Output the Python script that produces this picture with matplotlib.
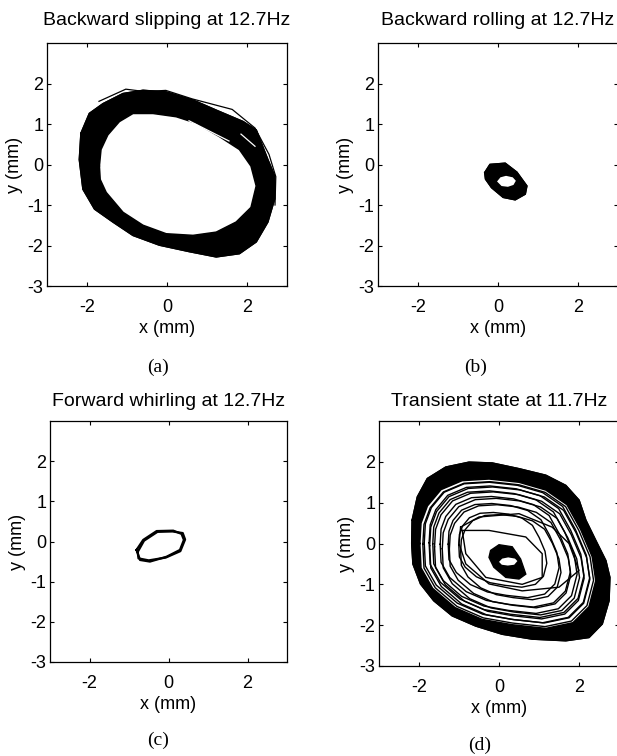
import numpy as np
import matplotlib
matplotlib.use("Agg")
import matplotlib.pyplot as plt

plt.rcParams['font.family'] = ['Liberation Sans', 'DejaVu Sans']

# ---------------- data (mm) ----------------
titles = ["Backward slipping at 12.7Hz", "Backward rolling at 12.7Hz",
          "Forward whirling at 12.7Hz", "Transient state at 11.7Hz"]
captions = ["(a)", "(b)", "(c)", "(d)"]
xticks = [-2, 0, 2]
yticks = [-3, -2, -1, 0, 1, 2]

# (a) backward slipping: outer and inner edge of the dense orbit band
a_outer_x = [-2.15, -2.19, -2.10, -1.81, -1.35, -0.85, -0.19, 0.56, 1.23, 1.81, 2.23, 2.52,
             2.69, 2.69, 2.52, 2.23, 1.90, 1.23, 0.65, -0.02, -0.60, -1.10, -1.60, -1.94]
a_outer_y = [0.77, 0.12, -0.61, -1.10, -1.42, -1.75, -1.99, -2.15, -2.28, -2.20, -1.91, -1.42,
             -0.85, -0.28, 0.12, 0.85, 1.06, 1.34, 1.59, 1.79, 1.83, 1.75, 1.50, 1.26]
a_inner_x = [-1.69, -1.65, -1.48, -1.19, -0.85, -0.35, 0.23, 0.73, 1.31, 1.81, 2.10,
             2.23, 2.10, 1.73, 1.23, 0.65, -0.02, -0.60, -1.10, -1.52, -1.67]
a_inner_y = [-0.04, 0.37, 0.73, 1.06, 1.26, 1.26, 1.18, 1.02, 0.69, 0.37, -0.04,
             -0.53, -1.06, -1.42, -1.67, -1.75, -1.71, -1.50, -1.18, -0.69, -0.37]
a_stray_x = [-1.70, -1.03, -0.55, -0.03, 0.63, 1.63, 2.20, 2.55, 2.72, 2.70]
a_stray_y = [1.56, 1.86, 1.80, 1.83, 1.62, 1.36, 0.90, 0.25, -0.30, -1.00]
a_streak1_x = [0.55, 1.55]
a_streak1_y = [1.08, 0.58]
a_streak2_x = [1.85, 2.20]
a_streak2_y = [0.75, 0.45]

# (b) backward rolling: small filled orbit with a hole
b_outer_x = [-0.33, -0.20, 0.18, 0.47, 0.72, 0.68, 0.43, 0.13, -0.16, -0.31]
b_outer_y = [-0.20, 0.00, 0.03, -0.19, -0.53, -0.73, -0.87, -0.81, -0.57, -0.36]
b_hole_x = [-0.05, 0.05, 0.20, 0.38, 0.47, 0.40, 0.25, 0.08]
b_hole_y = [-0.42, -0.30, -0.26, -0.30, -0.40, -0.52, -0.57, -0.55]

# (c) forward whirling: thin orbit (two passes)
c_loop1_x = [-0.81, -0.64, -0.30, 0.12, 0.33, 0.39, 0.29, -0.05, -0.47, -0.72, -0.81]
c_loop1_y = [-0.21, 0.04, 0.26, 0.27, 0.19, 0.04, -0.21, -0.38, -0.50, -0.46, -0.21]
c_loop2_x = [-0.78, -0.62, -0.28, 0.10, 0.36, 0.42, 0.30, -0.07, -0.50, -0.76, -0.78]
c_loop2_y = [-0.26, 0.02, 0.24, 0.25, 0.21, 0.05, -0.24, -0.40, -0.47, -0.42, -0.26]

# (d) transient state: outer band, growing loops and the central orbit
d_outer_x = [-2.17, -2.18, -2.15, -1.96, -1.63, -1.17, -0.58, 0.08, 0.83, 1.67, 2.25, 2.58, 2.75,
             2.77, 2.67, 2.42, 2.17, 2.00, 1.67, 1.17, 0.50, -0.17, -0.75, -1.33, -1.79, -2.04]
d_outer_y = [0.57, 0.00, -0.50, -0.99, -1.40, -1.77, -2.02, -2.22, -2.34, -2.38, -2.30, -1.97, -1.40,
             -0.83, -0.42, 0.07, 0.57, 1.06, 1.42, 1.67, 1.83, 1.97, 1.99, 1.87, 1.59, 1.14]
d_inner_x = [-1.98, -1.95, -1.66, -1.10, -0.42, 0.33, 1.17, 1.85, 2.25, 2.42,
             2.33, 2.04, 1.70, 1.17, 0.50, -0.25, -0.92, -1.45, -1.79, -1.95]
d_inner_y = [0.00, -0.60, -1.10, -1.57, -1.86, -1.99, -2.08, -1.94, -1.55, -0.91,
             -0.32, 0.35, 0.95, 1.31, 1.50, 1.58, 1.54, 1.32, 0.92, 0.50]
d_center = [0.21, -0.26]
d_loop_scale = [0.50, 0.57, 0.63, 0.69, 0.74, 0.78, 0.82, 0.85, 0.88, 0.91, 0.94, 0.97]
d_loop_dx = [-0.12, 0.08, -0.10, 0.06, -0.06, 0.08, -0.07, 0.04, -0.03, 0.05, -0.02, 0.01]
d_loop_dy = [0.10, -0.08, 0.08, -0.06, 0.05, -0.07, 0.04, -0.04, 0.05, -0.03, 0.03, -0.01]
d_eye1_x = [-0.96, -0.50, 0.50, 1.33, 1.75, 2.00, 1.50, 0.58, -0.25, -0.83, -1.00, -0.96]
d_eye1_y = [0.40, 0.65, 0.73, 0.40, 0.00, -0.66, -1.07, -1.16, -0.99, -0.50, 0.00, 0.40]
d_eye2_x = [-0.92, -0.25, 0.67, 1.08, 1.08, 0.58, -0.33, -0.83, -0.92]
d_eye2_y = [0.32, 0.32, 0.16, -0.25, -0.83, -1.00, -0.83, -0.25, 0.32]
d_blob_x = [-0.21, 0.00, 0.33, 0.54, 0.67, 0.50, 0.17, -0.13, -0.25]
d_blob_y = [-0.17, -0.03, -0.08, -0.38, -0.75, -0.87, -0.83, -0.58, -0.34]
d_hole_x = [0.00, 0.08, 0.23, 0.40, 0.46, 0.38, 0.22, 0.07]
d_hole_y = [-0.45, -0.37, -0.34, -0.37, -0.43, -0.52, -0.54, -0.52]

# ---------------- layout (figure fractions) ----------------
W, H = 617, 756
boxes = [(47, 43, 240, 243), (378, 43, 240, 243), (50, 421, 237, 241), (379, 421, 240, 245)]
title_pads = [13, 13, 11, 11]
cap_pos = [(158, 367), (476, 367), (158, 740), (480, 745)]

fig = plt.figure(figsize=(W / 100, H / 100), dpi=100)
axes = []
for (l, t, w, h) in boxes:
    ax = fig.add_axes([l / W, 1 - (t + h) / H, w / W, h / H])
    axes.append(ax)


def closed(x, y):
    return list(x) + [x[0]], list(y) + [y[0]]


def band(ax, ox, oy, ix, iy, z=2):
    ax.fill(ox, oy, color='black', lw=1.2, zorder=z)
    ax.fill(ix, iy, color='white', lw=0, zorder=z + 0.1)
    cx, cy = closed(ox, oy)
    ax.plot(cx, cy, color='black', lw=1.1, zorder=z + 0.2)
    cx, cy = closed(ix, iy)
    ax.plot(cx, cy, color='black', lw=1.1, zorder=z + 0.2)


# (a)
axa = axes[0]
band(axa, a_outer_x, a_outer_y, a_inner_x, a_inner_y)
axa.plot(a_stray_x, a_stray_y, color='black', lw=0.9, zorder=3)
axa.plot(a_streak1_x, a_streak1_y, color='white', lw=0.9, zorder=3)
axa.plot(a_streak2_x, a_streak2_y, color='white', lw=0.9, zorder=3)

# (b)
band(axes[1], b_outer_x, b_outer_y, b_hole_x, b_hole_y)

# (c)
axes[2].plot(c_loop1_x, c_loop1_y, color='black', lw=1.6)
axes[2].plot(c_loop2_x, c_loop2_y, color='black', lw=1.6)

# (d)
axd = axes[3]
band(axd, d_outer_x, d_outer_y, d_inner_x, d_inner_y)
ix, iy = closed(d_inner_x, d_inner_y)
for s, dx, dy in zip(d_loop_scale, d_loop_dx, d_loop_dy):
    lx = [d_center[0] + s * (v - d_center[0]) + dx for v in ix]
    ly = [d_center[1] + s * (v - d_center[1]) + dy for v in iy]
    axd.plot(lx, ly, color='black', lw=1.0, zorder=3)
axd.plot(d_eye1_x, d_eye1_y, color='black', lw=1.0, zorder=3)
axd.plot(d_eye2_x, d_eye2_y, color='black', lw=1.0, zorder=3)
axd.fill(d_blob_x, d_blob_y, color='black', lw=1.0, zorder=4)
axd.fill(d_hole_x, d_hole_y, color='white', lw=0, zorder=4.1)

for i, ax in enumerate(axes):
    ax.set_xlim(-3, 3)
    ax.set_ylim(-3, 3)
    ax.set_xticks(xticks)
    ax.set_yticks(yticks)
    ax.set_xticklabels([str(v) for v in xticks])
    ax.set_yticklabels([str(v) for v in yticks])
    ax.tick_params(direction='in', length=3, width=0.8, top=True, right=True,
                   labelsize=13)
    ax.tick_params(axis='x', pad=9)
    ax.tick_params(axis='y', pad=2.5)
    for sp in ax.spines.values():
        sp.set_linewidth(0.9)
    ax.set_xlabel("x (mm)", fontsize=13, labelpad=3)
    ax.set_ylabel("y (mm)", fontsize=13, labelpad=3)
    ax.set_title(titles[i], fontsize=14, pad=title_pads[i])
    cx, cy = cap_pos[i]
    fig.text(cx / W, 1 - cy / H, captions[i], ha='center', va='center',
             fontsize=14, family=['Liberation Serif', 'DejaVu Serif'])

fig.savefig("out.png", dpi=100)
